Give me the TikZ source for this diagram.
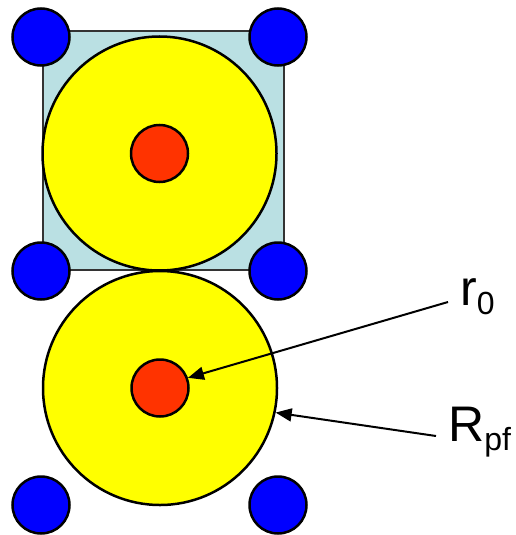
\documentclass[tikz,border=0pt]{standalone}
\usepackage{fontspec}
\setmainfont{Liberation Sans}
\usetikzlibrary{arrows.meta}
\definecolor{cellblue}{RGB}{186,224,227}
\definecolor{corered}{RGB}{255,51,0}
\definecolor{shellyellow}{RGB}{255,255,0}
\definecolor{atomblue}{RGB}{0,0,255}
\newcommand{\lowsub}[1]{\raisebox{-9pt}{\fontsize{32}{36}\selectfont #1}}

\begin{document}
\begin{tikzpicture}[
  x=1pt, y=-1pt,
  >={Triangle[length=16pt, width=13pt]},
  cell/.style  = {draw=black!80, line width=2pt, fill=cellblue,
                  minimum width=241pt, minimum height=239pt, inner sep=0pt},
  corner/.style = {circle, draw, line width=2.5pt, fill=atomblue,
                   minimum size=57pt, inner sep=0pt},
  shell/.style = {circle, draw, line width=2.5pt, fill=shellyellow,
                  minimum size=234pt, inner sep=0pt},
  core/.style  = {circle, draw, line width=2.5pt, fill=corered,
                  minimum size=57pt, inner sep=0pt},
  lab/.style   = {anchor=base west, inner xsep=12pt, inner ysep=0pt,
                  font=\fontsize{50}{60}\selectfont},
  arr/.style   = {->, line width=2pt}
]
\useasboundingbox (0,0) rectangle (515,535);

\node[cell] (cell) at (163.5,150.5) {};

% corner atoms
\foreach \name/\px/\py in {tl/41/37, tr/278/37, ml/41/271, mr/278/271, bl/41/505, br/278/505}
  \node[corner] (\name) at (\px,\py) {};

\node[shell] (shell1) at (159.5,153.5) {};
\node[core]  (core1)  at (159.5,153.5) {};
\node[shell] (shell2) at (160,388) {};
\node[core]  (core2)  at (160,388) {};

\node[lab] (rnull) at (448,305) {r\lowsub{0}};
\node[lab] (rpf)   at (436,441) {R\lowsub{pf}};

\draw[arr] ([yshift=3pt]rnull.base west) -- (core2.20);
\draw[arr] ([yshift=5pt]rpf.base west)   -- (shell2.-12);
\end{tikzpicture}
\end{document}
